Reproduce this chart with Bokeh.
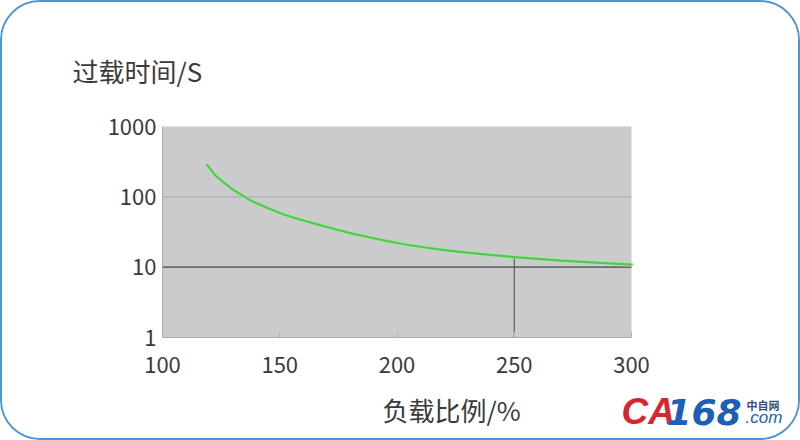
from bokeh.plotting import figure
from bokeh.models import Label, FixedTicker, Range1d, CustomJSTickFormatter
from bokeh.embed import file_html
from bokeh.resources import INLINE
import math

# ---- data ----
load_pct = [119, 122.6, 125, 130, 137.5, 145, 152, 159, 166, 174.5, 181.5, 189, 196, 203,
            210, 217, 224, 231, 238.5, 250, 270, 300]
overload_s = [285, 201, 171, 127, 89, 69, 55.6, 47.2, 40.6, 34, 29.8, 26.2, 23.4, 21.2,
              19.5, 18, 16.9, 16, 15.1, 13.9, 12.4, 10.9]
x_ticks = [100, 150, 200, 250, 300]
y_ticks = [1, 10, 100, 1000]
grid_light = [100]
grid_dark = [10]
marker_x = 250
y_title = "过载时间/S"
x_title = "负载比例/%"

# ---- layout (page pixels) ----
W, H = 800, 440
BORDER = 2
PLOT_L, PLOT_R, PLOT_T, PLOT_B = 162, 631, 126, 337
FONT = "Noto Sans CJK SC"
TXT = "#3a3a3a"

xpp = (x_ticks[-1] - x_ticks[0]) / (PLOT_R - PLOT_L)              # data per px
ldec = (math.log10(y_ticks[-1]) - math.log10(y_ticks[0])) / (PLOT_B - PLOT_T)


def to_x(px):
    return x_ticks[0] + (px - PLOT_L) * xpp


def to_y(py):
    return 10 ** (math.log10(y_ticks[0]) + (PLOT_B - py) * ldec)


f_left, f_right = BORDER, BORDER + W
f_top, f_bottom = BORDER, BORDER + H

p = figure(width=W, height=H, y_axis_type="log",
           x_range=Range1d(to_x(f_left), to_x(f_right)),
           y_range=Range1d(to_y(f_bottom), to_y(f_top)),
           output_backend="svg", toolbar_location=None, title=None,
           min_border_left=0, min_border_right=0,
           min_border_top=0, min_border_bottom=0)
p.background_fill_color = "white"
p.border_fill_color = "white"
p.outline_line_color = None
p.xgrid.visible = False
p.ygrid.visible = False
p.styles = {"border": "2px solid #4a96d8", "border-radius": "40px", "overflow": "hidden"}

# gray plotting area
p.quad(left=[x_ticks[0]], right=[x_ticks[-1]], bottom=[y_ticks[0]], top=[y_ticks[-1]],
       fill_color="#cbcbcd", line_color=None, level="underlay")

xa, ya = p.xaxis[0], p.yaxis[0]
xa.fixed_location = y_ticks[0]
ya.fixed_location = x_ticks[0]
xa.bounds = (x_ticks[0], x_ticks[-1])
ya.bounds = (y_ticks[0], y_ticks[-1])
for ax in (xa, ya):
    ax.major_label_text_font = FONT
    ax.major_label_text_font_size = "22px"
    ax.major_label_text_color = TXT
    ax.axis_line_color = "#a9a9a9"
    ax.minor_tick_line_color = None

xa.ticker = FixedTicker(ticks=x_ticks)
ya.ticker = FixedTicker(ticks=y_ticks)
xa.major_tick_in = 6
xa.major_tick_out = 0
xa.major_tick_line_color = "#b4b4b4"
ya.major_tick_in = 0
ya.major_tick_out = 0
xa.major_label_standoff = 19
ya.major_label_standoff = 6
ya.formatter = CustomJSTickFormatter(code="return String(tick);")

# reference lines
for lv in grid_light:
    p.segment(x0=[x_ticks[0]], y0=[lv], x1=[x_ticks[-1]], y1=[lv],
              line_color="#a8a8a8", line_width=1)
for lv in grid_dark:
    p.segment(x0=[x_ticks[0]], y0=[lv], x1=[x_ticks[-1]], y1=[lv],
              line_color="#6a6a6a", line_width=1.6)

# vertical marker from the bottom up to the curve
top_at_marker = overload_s[load_pct.index(marker_x)]
p.segment(x0=[marker_x], y0=[y_ticks[0]], x1=[marker_x], y1=[top_at_marker],
          line_color="#444444", line_width=1)

p.line(load_pct, overload_s, line_color="#a6e8a6", line_width=4.5, line_alpha=0.6,
       line_join="round", line_cap="round")
p.line(load_pct, overload_s, line_color="#52c852", line_width=2.2,
       line_join="round", line_cap="round")

# titles
p.add_layout(Label(x=to_x(72), y=to_y(70), text=y_title, text_font=FONT,
                   text_font_size="26px", text_color=TXT,
                   text_align="left", text_baseline="middle"))
p.add_layout(Label(x=to_x(382), y=to_y(408.5), text=x_title, text_font=FONT,
                   text_font_size="26px", text_color=TXT,
                   text_align="left", text_baseline="middle"))

# watermark logo
p.add_layout(Label(x=to_x(621), y=to_y(411), text="CA", text_font="Liberation Sans",
                   text_font_size="37px", text_font_style="bold italic",
                   text_color="#d8262e", text_align="left", text_baseline="middle"))
p.add_layout(Label(x=to_x(666), y=to_y(411), text="168", text_font="DejaVu Sans",
                   text_font_size="36px", text_font_style="bold italic",
                   text_color="#1d5fb5", text_align="left", text_baseline="middle"))
p.add_layout(Label(x=to_x(746), y=to_y(404), text="中自网", text_font=FONT,
                   text_font_size="11px", text_font_style="bold",
                   text_color="#34507a", text_align="left", text_baseline="middle"))
p.add_layout(Label(x=to_x(745), y=to_y(417), text=".com", text_font="Liberation Sans",
                   text_font_size="17px", text_font_style="italic",
                   text_color="#1d5fb5", text_align="left", text_baseline="middle"))

open("out.html", "w").write(file_html(p, INLINE))
